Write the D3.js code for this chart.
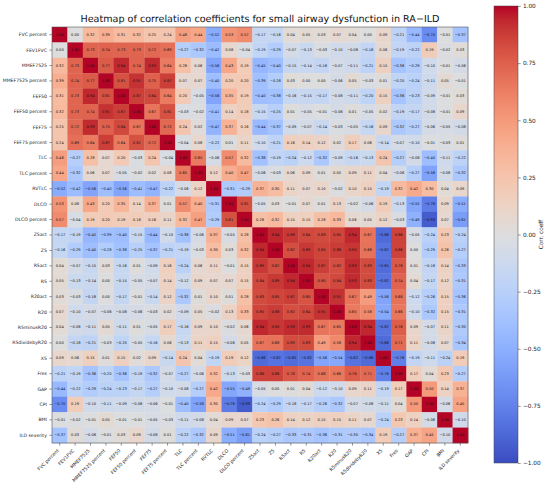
<!DOCTYPE html>
<html>
<head>
<meta charset="utf-8">
<script src="https://cdn.jsdelivr.net/npm/d3@7"></script>
<style>
  html, body { margin: 0; padding: 0; background: #fff; }
  svg { display: block; font-family: "DejaVu Sans", sans-serif; -webkit-font-smoothing: antialiased; }
  text { text-rendering: geometricPrecision; }
</style>
</head>
<body>
<svg id="chart" width="550" height="485"></svg>
<script>
const labels = ["FVC percent","FEV1FVC","MMEF7525","MMEF7525 percent","FEF50","FEF50 percent","FEF75","FEF75 percent","TLC","TLC percent","RVTLC","DLCO","DLCO percent","Z5act","Z5","R5act","R5","R20act","R20","R5minusR20","R5dividebyR20","X5","Fres","GAP","CPI","BMI","ILD severity"];

const corr = [
 [1.00,0.00,0.32,0.39,0.31,0.32,0.25,0.24,0.48,0.44,-0.52,0.53,0.57,-0.17,-0.16,0.04,0.05,0.03,0.07,0.04,0.00,0.09,-0.21,-0.44,-0.70,-0.01,-0.37],
 [0.00,1.00,0.73,0.74,0.73,0.73,0.72,0.69,-0.27,-0.32,-0.42,0.08,-0.04,-0.19,-0.29,-0.07,-0.13,-0.03,-0.10,-0.08,-0.18,0.06,-0.19,-0.22,0.19,-0.02,0.03],
 [0.32,0.73,1.00,0.77,0.94,0.74,0.93,0.64,0.28,0.06,-0.56,0.43,0.19,-0.45,-0.40,-0.15,-0.14,-0.18,-0.07,-0.11,-0.21,0.15,-0.36,-0.29,-0.10,-0.01,-0.06],
 [0.39,0.74,0.77,1.00,0.81,0.91,0.75,0.87,0.07,0.07,-0.40,0.20,0.20,-0.39,-0.28,0.03,0.00,0.00,-0.06,0.05,-0.03,0.01,-0.20,-0.24,-0.11,0.05,-0.01],
 [0.31,0.73,0.94,0.81,1.00,0.87,0.84,0.64,0.20,-0.05,-0.56,0.35,0.19,-0.40,-0.38,-0.16,-0.15,-0.17,-0.08,-0.11,-0.20,0.15,-0.36,-0.23,-0.09,-0.01,0.03],
 [0.32,0.73,0.74,0.91,0.87,1.00,0.67,0.81,-0.03,-0.02,-0.41,0.14,0.18,-0.15,-0.25,0.01,-0.05,-0.01,-0.06,0.01,-0.05,0.02,-0.19,-0.17,-0.08,-0.01,0.09],
 [0.25,0.72,0.93,0.75,0.84,0.67,1.00,0.72,0.24,0.02,-0.47,0.37,0.16,-0.44,-0.37,-0.09,-0.07,-0.14,-0.03,-0.05,-0.16,0.09,-0.32,-0.27,-0.06,-0.05,-0.08],
 [0.24,0.69,0.64,0.87,0.64,0.81,0.72,1.00,-0.04,0.08,-0.22,0.01,0.11,-0.10,-0.21,0.16,0.14,0.12,0.02,0.17,0.06,-0.14,-0.07,-0.10,-0.01,-0.03,0.01],
 [0.48,-0.27,0.28,0.07,0.20,-0.03,0.24,-0.04,1.00,0.65,-0.06,0.57,0.32,-0.38,-0.19,-0.24,-0.12,-0.32,-0.09,-0.16,-0.13,0.24,-0.27,-0.08,-0.40,-0.11,-0.22],
 [0.44,-0.32,0.06,0.07,-0.05,-0.02,0.02,0.08,0.65,1.00,0.12,0.40,0.47,-0.06,-0.03,0.06,0.09,0.01,0.05,0.09,0.11,0.04,-0.06,-0.27,-0.58,-0.08,-0.32],
 [-0.52,-0.42,-0.56,-0.40,-0.56,-0.41,-0.47,-0.22,-0.06,0.12,1.00,-0.31,-0.29,0.37,0.30,0.11,0.07,0.10,-0.02,0.10,0.15,-0.19,0.32,0.42,0.30,0.04,0.09],
 [0.53,0.08,0.43,0.20,0.35,0.14,0.37,0.01,0.57,0.40,-0.31,1.00,0.81,-0.05,0.03,-0.01,0.07,0.01,0.13,-0.02,-0.06,0.19,-0.13,-0.55,-0.78,0.09,-0.51],
 [0.57,-0.04,0.19,0.20,0.19,0.18,0.16,0.11,0.32,0.47,-0.29,0.81,1.00,0.28,0.32,0.15,0.15,0.28,0.33,0.06,0.05,0.12,-0.03,-0.49,-0.93,0.07,-0.61],
 [-0.17,-0.19,-0.45,-0.39,-0.40,-0.15,-0.44,-0.10,-0.38,-0.06,0.37,-0.05,0.28,1.00,0.94,0.89,0.84,0.83,0.85,0.94,0.67,-0.86,0.86,-0.05,-0.24,0.23,-0.24],
 [-0.16,-0.29,-0.40,-0.28,-0.38,-0.25,-0.37,-0.21,-0.19,-0.03,0.30,0.03,0.32,0.94,1.00,0.82,0.89,0.85,0.88,0.90,0.68,-0.82,0.86,0.00,-0.29,0.26,-0.27],
 [0.04,-0.07,-0.15,0.03,-0.16,0.01,-0.09,0.16,-0.24,0.06,0.11,-0.01,0.15,0.89,0.82,1.00,0.94,0.87,0.82,0.93,0.83,-0.85,0.78,0.01,-0.18,0.14,-0.33],
 [0.05,-0.13,-0.14,0.00,-0.15,-0.05,-0.07,0.14,-0.12,0.09,0.07,0.07,0.15,0.84,0.89,0.94,1.00,0.80,0.84,0.93,0.83,-0.82,0.74,0.04,-0.17,0.12,-0.31],
 [0.03,-0.03,-0.18,0.00,-0.17,-0.01,-0.14,0.12,-0.32,0.01,0.10,0.01,0.28,0.83,0.85,0.87,0.80,1.00,0.91,0.67,0.49,-0.56,0.68,-0.12,-0.26,0.15,-0.36],
 [0.07,-0.10,-0.07,-0.06,-0.08,-0.06,-0.03,0.02,-0.09,0.05,-0.02,0.13,0.33,0.85,0.88,0.82,0.84,0.91,1.00,0.65,0.58,-0.54,0.66,-0.10,-0.32,0.15,-0.31],
 [0.04,-0.08,-0.11,0.05,-0.11,0.01,-0.05,0.17,-0.16,0.09,0.10,-0.02,0.06,0.94,0.90,0.93,0.93,0.67,0.65,1.00,0.94,-0.82,0.76,0.09,-0.07,0.11,-0.30],
 [0.00,-0.18,-0.21,-0.03,-0.20,-0.05,-0.16,0.06,-0.13,0.11,0.15,-0.06,0.05,0.67,0.68,0.83,0.83,0.49,0.58,0.94,1.00,-0.86,0.71,0.11,-0.08,0.07,-0.34],
 [0.09,0.06,0.15,0.01,0.15,0.02,0.09,-0.14,0.24,0.04,-0.19,0.19,0.12,-0.86,-0.82,-0.85,-0.82,-0.56,-0.54,-0.82,-0.86,1.00,-0.76,-0.19,-0.11,-0.24,0.19],
 [-0.21,-0.19,-0.36,-0.20,-0.36,-0.19,-0.32,-0.07,-0.27,-0.06,0.32,-0.13,-0.03,0.86,0.86,0.78,0.74,0.68,0.66,0.76,0.71,-0.76,1.00,0.17,0.04,0.23,-0.27],
 [-0.44,-0.22,-0.29,-0.24,-0.23,-0.17,-0.27,-0.10,-0.08,-0.27,0.42,-0.55,-0.49,-0.05,0.00,0.01,0.04,-0.12,-0.10,0.09,0.11,-0.19,0.17,1.00,0.50,0.14,0.37],
 [-0.70,0.19,-0.10,-0.11,-0.09,-0.08,-0.06,-0.01,-0.40,-0.58,0.30,-0.78,-0.93,-0.24,-0.29,-0.18,-0.17,-0.26,-0.32,-0.07,-0.08,-0.11,0.04,0.50,1.00,-0.06,0.45],
 [-0.01,-0.02,-0.01,0.05,-0.01,-0.01,-0.05,-0.03,-0.11,-0.08,0.04,0.09,0.07,0.23,0.26,0.14,0.12,0.15,0.15,0.11,0.07,-0.24,0.23,0.14,-0.06,1.00,-0.10],
 [-0.37,0.03,-0.06,-0.01,0.03,0.09,-0.08,0.01,-0.22,-0.32,0.09,-0.51,-0.61,-0.24,-0.27,-0.33,-0.31,-0.36,-0.31,-0.30,-0.34,0.19,-0.27,0.37,0.45,-0.10,1.00]
];

const cbTicks = [-1.00,-0.75,-0.50,-0.25,0.00,0.25,0.50,0.75,1.00];
const title = "Heatmap of correlation coefficients for small airway dysfunction in RA\u2212ILD";
const cbLabel = "Corr. coeff";

// matplotlib "coolwarm" reference samples
const coolwarmRGB = [
 [59,76,192],[68,90,204],[77,104,215],[87,117,225],[98,130,234],[108,142,241],[119,154,247],[130,165,251],
 [141,176,254],[152,185,255],[163,194,255],[174,201,253],[184,208,249],[194,213,244],[204,217,238],[213,219,230],
 [221,221,221],[229,216,209],[236,211,197],[241,204,184],[245,196,172],[247,187,160],[247,177,148],[247,166,135],
 [244,154,123],[241,141,111],[236,127,99],[229,112,88],[222,96,77],[213,80,66],[203,62,56],[192,40,47],[180,4,38]
];
const cwDomain = coolwarmRGB.map((_, i) => -1 + 2 * i / (coolwarmRGB.length - 1));
const color = d3.scaleLinear()
  .domain(cwDomain)
  .range(coolwarmRGB.map(c => d3.rgb(c[0], c[1], c[2])))
  .interpolate(d3.interpolateRgb)
  .clamp(true);

const svg = d3.select("#chart");
const L = 52, T = 27, S = 416;

const x = d3.scaleBand().domain(labels).range([L, L + S]);
const y = d3.scaleBand().domain(labels).range([T, T + S]);

const cells = [];
corr.forEach((row, i) => row.forEach((v, j) => cells.push({ r: labels[i], c: labels[j], v })));

const g = svg.append("g");
g.selectAll("rect.cell").data(cells).join("rect")
  .attr("class", "cell")
  .attr("x", d => x(d.c))
  .attr("y", d => y(d.r))
  .attr("width", x.bandwidth() + 0.3)
  .attr("height", y.bandwidth() + 0.3)
  .attr("fill", d => color(d.v));

const fmt = d3.format(".2f");
g.selectAll("text.ann").data(cells).join("text")
  .attr("class", "ann")
  .attr("x", d => x(d.c) + x.bandwidth() / 2)
  .attr("y", d => y(d.r) + y.bandwidth() / 2)
  .attr("text-anchor", "middle")
  .attr("dominant-baseline", "central")
  .attr("font-size", 3.6)
  .attr("fill", "#111")
  .text(d => fmt(d.v));

// border
svg.append("rect")
  .attr("x", L).attr("y", T).attr("width", S).attr("height", S)
  .attr("fill", "none").attr("stroke", "#555").attr("stroke-width", 0.6);

// y axis
const yAxis = svg.append("g")
  .attr("transform", `translate(${L},0)`)
  .call(d3.axisLeft(y).tickSize(2.7).tickPadding(2.4));
yAxis.select(".domain").remove();
yAxis.selectAll("line").attr("stroke", "#333").attr("stroke-width", 0.5);
yAxis.selectAll("text").attr("font-size", 4.6).attr("fill", "#222")
  .attr("font-family", "DejaVu Sans");

// x axis
const xAxis = svg.append("g")
  .attr("transform", `translate(0,${T + S})`)
  .call(d3.axisBottom(x).tickSize(2.7).tickPadding(2.4));
xAxis.select(".domain").remove();
xAxis.selectAll("line").attr("stroke", "#333").attr("stroke-width", 0.5);
xAxis.selectAll("text")
  .attr("font-size", 4.6).attr("fill", "#222").attr("font-family", "DejaVu Sans")
  .attr("text-anchor", "end")
  .attr("dy", null)
  .attr("y", null)
  .attr("transform", "translate(-0.5,8) rotate(-45)");

// title
svg.append("text")
  .attr("x", L + S / 2).attr("y", 22)
  .attr("text-anchor", "middle")
  .attr("font-size", 9.6)
  .attr("fill", "#111")
  .text(title);

// colorbar
const cbX = 494, cbW = 24, cbTop = 6, cbBot = 463;
const defs = svg.append("defs");
const grad = defs.append("linearGradient").attr("id", "cw")
  .attr("x1", 0).attr("y1", 1).attr("x2", 0).attr("y2", 0);
grad.selectAll("stop").data(coolwarmRGB).join("stop")
  .attr("offset", (d, i) => i / (coolwarmRGB.length - 1))
  .attr("stop-color", d => d3.rgb(d[0], d[1], d[2]).formatHex());
svg.append("rect")
  .attr("x", cbX).attr("y", cbTop).attr("width", cbW).attr("height", cbBot - cbTop)
  .attr("fill", "url(#cw)").attr("stroke", "#444").attr("stroke-width", 0.5);

const cbScale = d3.scaleLinear().domain([-1, 1]).range([cbBot, cbTop]);
const cbAxis = svg.append("g")
  .attr("transform", `translate(${cbX + cbW},0)`)
  .call(d3.axisRight(cbScale).tickValues(cbTicks).tickFormat(d3.format(".2f")).tickSize(2.7).tickPadding(2.2));
cbAxis.select(".domain").remove();
cbAxis.selectAll("line").attr("stroke", "#333").attr("stroke-width", 0.5);
cbAxis.selectAll("text").attr("font-size", 5.8).attr("fill", "#222").attr("font-family", "DejaVu Sans");

svg.append("text")
  .attr("transform", `translate(542,${(cbTop + cbBot) / 2}) rotate(-90)`)
  .attr("text-anchor", "middle")
  .attr("dominant-baseline", "central")
  .attr("font-size", 5.8)
  .attr("fill", "#222")
  .text(cbLabel);
</script>
</body>
</html>
